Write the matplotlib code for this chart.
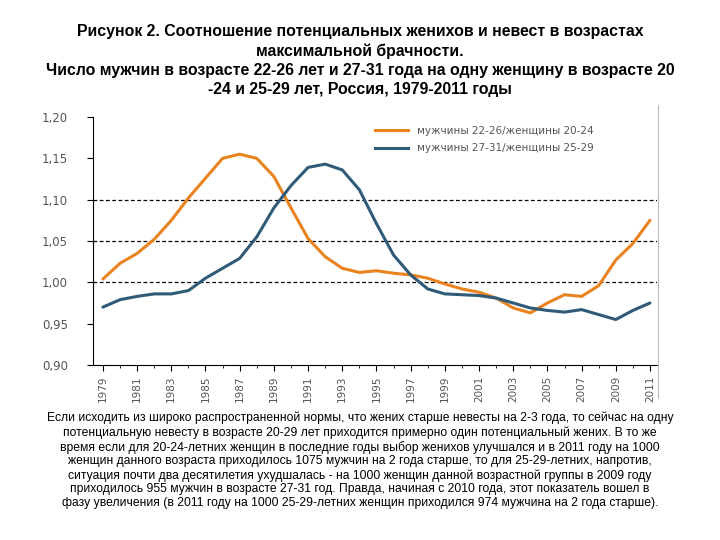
import numpy as np
import matplotlib.pyplot as plt
from matplotlib.ticker import MultipleLocator, FuncFormatter
from matplotlib.lines import Line2D

years = list(range(1979, 2012))
men_22_26 = [1.004, 1.023, 1.035, 1.052, 1.075, 1.102, 1.126, 1.150, 1.155, 1.150,
             1.128, 1.090, 1.053, 1.031, 1.017, 1.012, 1.014, 1.011, 1.009, 1.005,
             0.998, 0.992, 0.988, 0.981, 0.969, 0.963, 0.975, 0.985, 0.983, 0.996,
             1.027, 1.047, 1.075]
men_27_31 = [0.970, 0.979, 0.983, 0.986, 0.986, 0.990, 1.005, 1.017, 1.029, 1.055,
             1.090, 1.117, 1.139, 1.143, 1.136, 1.112, 1.071, 1.033, 1.009, 0.992,
             0.986, 0.985, 0.984, 0.981, 0.975, 0.969, 0.966, 0.964, 0.967, 0.961,
             0.955, 0.966, 0.975]
label_1 = "мужчины 22-26/женщины 20-24"
label_2 = "мужчины 27-31/женщины 25-29"

title = ("Рисунок 2. Соотношение потенциальных женихов и невест в возрастах\n"
         "максимальной брачности.\n"
         "Число мужчин в возрасте 22-26 лет и 27-31 года на одну женщину в возрасте 20\n"
         "-24 и 25-29 лет, Россия, 1979-2011 годы")
note = ("Если исходить из широко распространенной нормы, что жених старше невесты на 2-3 года, то сейчас на одну\n"
        "потенциальную невесту в возрасте 20-29 лет приходится примерно один потенциальный жених. В то же\n"
        "время если для 20-24-летних женщин в последние годы выбор женихов улучшался и в 2011 году на 1000\n"
        "женщин данного возраста приходилось 1075 мужчин на 2 года старше, то для 25-29-летних, напротив,\n"
        "ситуация почти два десятилетия ухудшалась - на 1000 женщин данной возрастной группы в 2009 году\n"
        "приходилось 955 мужчин в возрасте 27-31 год. Правда, начиная с 2010 года, этот показатель вошел в\n"
        "фазу увеличения (в 2011 году на 1000 25-29-летних женщин приходился 974 мужчина на 2 года старше).")

orange = "#E8831F"
blue = "#2F5B78"
grey = "#555555"

fig = plt.figure(figsize=(7.2, 5.4), dpi=100)
ax = fig.add_axes([93/720, 1-365/540, (657-93)/720, 248/540])

ax.plot(years, men_22_26, color=orange, lw=2.2, solid_capstyle="round")
ax.plot(years, men_27_31, color=blue, lw=2.2, solid_capstyle="round")

for v in [1.00, 1.05, 1.10]:
    ax.axhline(v, color="black", lw=0.9, ls=(0, (3, 2)), zorder=0)

ax.set_ylim(0.90, 1.20)
ax.set_xlim(1978.42, 2011.41)
ax.yaxis.set_major_locator(MultipleLocator(0.05))
ax.yaxis.set_major_formatter(FuncFormatter(lambda v, p: f"{v:.2f}".replace(".", ",")))
ax.set_xticks(years[::2])
ax.set_xticks(years, minor=True)
ax.tick_params(axis="x", which="major", labelrotation=90, labelsize=7.5, colors="black",
               labelcolor=grey, length=4, width=0.8)
ax.tick_params(axis="x", which="minor", length=2, width=0.6)
ax.tick_params(axis="y", labelsize=8.5, labelcolor=grey, length=4, width=0.8, pad=14)
for s in ["top", "right"]:
    ax.spines[s].set_visible(False)

handles = [Line2D([], [], color=orange, lw=2.2), Line2D([], [], color=blue, lw=2.2)]
leg = ax.legend(handles, [label_1, label_2], loc="upper left", bbox_to_anchor=(0.487, 0.995),
                frameon=False, fontsize=7.5, handlelength=3.2, handletextpad=0.8,
                labelspacing=0.75, borderaxespad=0.3)
for t in leg.get_texts():
    t.set_color(grey)

fig.add_artist(Line2D([658/720, 658/720], [1-105/540, 1-398/540], color="#bbbbbb", lw=0.8))

fig.text(0.5, 1-24/540, title, ha="center", va="top", fontsize=11.4, fontweight="bold",
         family="Liberation Sans", linespacing=1.33)
fig.text(0.5, 1-412/540, note, ha="center", va="top", fontsize=8.75,
         family=["Liberation Sans Narrow", "Liberation Sans"], linespacing=1.19)

fig.savefig("out.png")
